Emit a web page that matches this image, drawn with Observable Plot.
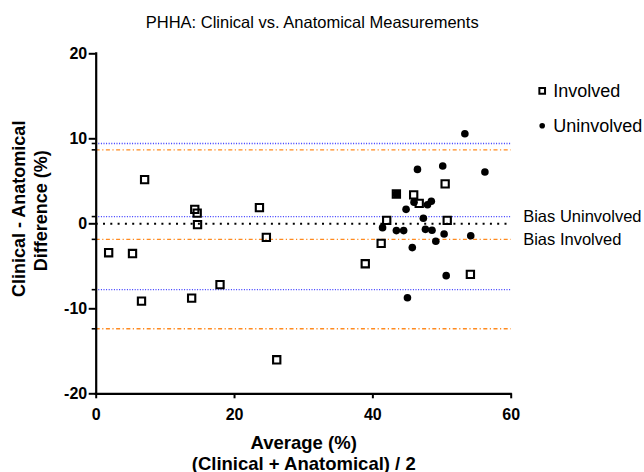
<!DOCTYPE html>
<html>
<head>
<meta charset="utf-8">
<script src="https://cdn.jsdelivr.net/npm/d3@7"></script>
<script src="https://cdn.jsdelivr.net/npm/@observablehq/plot@0.6"></script>
<style>
  html, body { margin: 0; padding: 0; background: white; }
  #chart { width: 644px; height: 472px; overflow: hidden; }
</style>
</head>
<body>
<div id="chart"></div>
<script>
// Involved (open squares)
const involvedAvg  = [1.8, 5.25, 6.55, 7.0, 13.8, 14.25, 14.6, 14.65, 17.9, 23.6, 24.6, 26.1, 38.9, 41.2, 42.0, 43.4, 45.9, 46.7, 50.45, 50.75, 54.1];
const involvedDiff = [-3.4, -3.5, -9.1, 5.2, -8.75, 1.7, 1.25, -0.1, -7.15, 1.9, -1.6, -16.0, -4.7, -2.3, 0.4, 3.5, 3.4, 2.4, 4.7, 0.4, -5.95];
// Uninvolved (filled circles)
const uninvolvedAvg  = [53.3, 46.45, 50.1, 56.2, 43.4, 45.95, 47.9, 48.45, 44.8, 47.3, 41.4, 43.4, 44.45, 47.6, 48.55, 50.3, 54.15, 49.1, 45.7, 50.6, 45.0];
const uninvolvedDiff = [10.6, 6.4, 6.8, 6.1, 3.5, 2.55, 2.25, 2.65, 1.7, 0.65, -0.45, -0.8, -0.8, -0.65, -0.75, -1.2, -1.4, -2.05, -2.8, -6.1, -8.7];
// Bias and limits of agreement
const uninvolvedLines = [9.45, 0.85, -7.75];
const involvedLines   = [8.7, -1.83, -12.35];
const zeroLine = [0];
// Ticks and labels
const xTicks = [0, 20, 40, 60];
const yTicks = [-20, -10, 0, 10, 20];
const titleText = "PHHA: Clinical vs. Anatomical Measurements";
const yLabelLines = ["Clinical - Anatomical", "Difference (%)"];
const xLabelLines = ["Average (%)", "(Clinical + Anatomical) / 2"];
const legendLabels = ["Involved", "Uninvolved"];
const biasLabels = ["Bias Uninvolved", "Bias Involved"];

const involved = involvedAvg.map((x, i) => ({x, y: involvedDiff[i]}));
const uninvolved = uninvolvedAvg.map((x, i) => ({x, y: uninvolvedDiff[i]}));

const font = "'Liberation Sans', Arial, Helvetica, sans-serif";

const chart = Plot.plot({
  width: 644,
  height: 472,
  marginLeft: 95.7,
  marginRight: 133.3,
  marginTop: 53.3,
  marginBottom: 78.7,
  style: {fontFamily: font, background: "white", color: "black"},
  x: {domain: [0, 60], nice: false},
  y: {domain: [-20, 20], nice: false},
  marks: [
    // reference lines
    Plot.ruleY(uninvolvedLines, {stroke: "#3b3bff", strokeWidth: 1.3, strokeDasharray: "1,1.6"}),
    Plot.ruleY(involvedLines, {stroke: "#ff8a1f", strokeWidth: 1.4, strokeDasharray: "4,2.5,1.2,2.5"}),
    Plot.ruleY(zeroLine, {stroke: "black", strokeWidth: 2, strokeDasharray: "2,5.3"}),
    // axes
    Plot.axisX({ticks: xTicks, tickSize: 5, tickPadding: 10, strokeWidth: 2, fontSize: 16, fontWeight: "bold", tickFormat: d => String(d), label: null}),
    Plot.axisY({ticks: yTicks, tickSize: 7, tickPadding: 2, strokeWidth: 2, fontSize: 16, fontWeight: "bold", tickFormat: d => String(d), label: null}),
    Plot.axisY({ticks: [...uninvolvedLines, ...involvedLines], tickSize: 4, strokeWidth: 1.6, tickFormat: () => "", label: null}),
    Plot.ruleX([0], {strokeWidth: 2.2, strokeLinecap: "square"}),
    Plot.ruleY([-20], {strokeWidth: 2.2, strokeLinecap: "square"}),
    // data
    Plot.dot(uninvolved, {x: "x", y: "y", r: 3.8, fill: "black", stroke: "none"}),
    Plot.dot(involved, {x: "x", y: "y", symbol: "square", r: 4.1, fill: "none", stroke: "black", strokeWidth: 2.1}),
    // bias labels
    Plot.text([biasLabels[0]], {x: 60, y: uninvolvedLines[1], dx: 12, textAnchor: "start", fontSize: 16.5, lineAnchor: "middle"}),
    Plot.text([biasLabels[1]], {x: 60, y: involvedLines[1], dx: 12, textAnchor: "start", fontSize: 16.5, lineAnchor: "middle"}),
    // legend
    Plot.dot([legendLabels[0]], {frameAnchor: "top-right", dx: 31, dy: 37, symbol: "square", r: 3.2, fill: "none", stroke: "black", strokeWidth: 2}),
    Plot.text([legendLabels[0]], {frameAnchor: "top-right", dx: 42, dy: 37, textAnchor: "start", lineAnchor: "middle", fontSize: 18}),
    Plot.dot([legendLabels[1]], {frameAnchor: "top-right", dx: 31, dy: 72, r: 2.8, fill: "black"}),
    Plot.text([legendLabels[1]], {frameAnchor: "top-right", dx: 42, dy: 72, textAnchor: "start", lineAnchor: "middle", fontSize: 18}),
    // title
    Plot.text([titleText], {frameAnchor: "top", textAnchor: "middle", dx: 8.5, dy: -26, lineAnchor: "bottom", fontSize: 16.5}),
    // y label
    Plot.text([yLabelLines[0]], {frameAnchor: "left", textAnchor: "middle", dx: -71, dy: -15, rotate: -90, lineAnchor: "bottom", fontSize: 18, fontWeight: "bold"}),
    Plot.text([yLabelLines[1]], {frameAnchor: "left", textAnchor: "middle", dx: -49.5, dy: -13, rotate: -90, lineAnchor: "bottom", fontSize: 18, fontWeight: "bold"}),
    // x label
    Plot.text([xLabelLines[0]], {frameAnchor: "bottom", textAnchor: "middle", dy: 55.5, lineAnchor: "bottom", fontSize: 18.5, fontWeight: "bold"}),
    Plot.text([xLabelLines[1]], {frameAnchor: "bottom", textAnchor: "middle", dy: 76, lineAnchor: "bottom", fontSize: 18.5, fontWeight: "bold"})
  ]
});
document.getElementById("chart").appendChild(chart);
</script>
</body>
</html>
